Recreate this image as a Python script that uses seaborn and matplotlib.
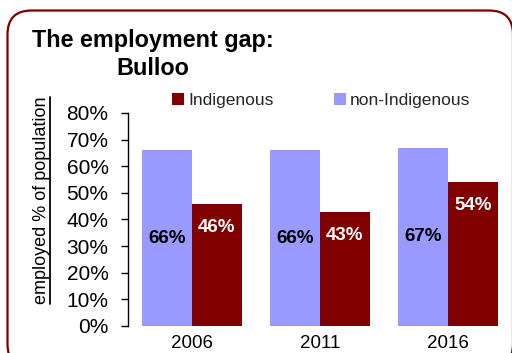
import matplotlib
matplotlib.use("Agg")
import matplotlib.pyplot as plt
from matplotlib.patches import FancyBboxPatch, Patch
from matplotlib.lines import Line2D
import seaborn as sns
import pandas as pd

# Census years and employment rates (share of working-age population)
years = ["2006", "2011", "2016"]
non_indigenous = [0.66, 0.66, 0.67]
indigenous = [0.46, 0.43, 0.54]
series_names = ["non-Indigenous", "Indigenous"]
y_ticks = [0.0, 0.1, 0.2, 0.3, 0.4, 0.5, 0.6, 0.7, 0.8]

colors = {"non-Indigenous": "#9999FF", "Indigenous": "#800000"}

df = pd.DataFrame({
    "year": years * 2,
    "group": [series_names[0]] * len(years) + [series_names[1]] * len(years),
    "rate": non_indigenous + indigenous,
})

sns.set_theme(style="white")
plt.rcParams["font.family"] = ["Liberation Sans", "DejaVu Sans"]

fig = plt.figure(figsize=(5.12, 3.53), dpi=100)
ax = fig.add_axes([0.25, 0.0765, 0.75, 0.6034])

sns.barplot(data=df, x="year", y="rate", hue="group", hue_order=series_names,
            order=years, palette=colors, width=0.774, gap=0, saturation=1,
            edgecolor="none", linewidth=0, ax=ax, legend=False)

ax.set_xlim(-0.5, 2.5)
ax.set_ylim(0, 0.8)
ax.set_yticks(y_ticks)
ax.set_yticklabels([f"{int(round(t * 100))}%" for t in y_ticks], fontsize=15)
ax.tick_params(axis="y", which="both", left=True, length=5, width=1,
               color="black", pad=9, labelcolor="black")
ax.tick_params(axis="x", bottom=False, length=0, pad=6.5, labelsize=13.5,
               labelcolor="black")
ax.set_xlabel("")
ax.set_ylabel("")
for side in ["top", "right", "bottom"]:
    ax.spines[side].set_visible(False)
ax.spines["left"].set_color("black")
ax.spines["left"].set_linewidth(1)
ax.grid(False)

# Value labels: centred for non-Indigenous, just inside the top for Indigenous
for patch in ax.containers[0]:
    h = patch.get_height()
    ax.text(patch.get_x() + patch.get_width() / 2, h / 2, f"{round(h * 100):.0f}%",
            ha="center", va="center", fontsize=13.5, fontweight="bold", color="black")
for patch in ax.containers[1]:
    h = patch.get_height()
    ax.annotate(f"{round(h * 100):.0f}%", xy=(patch.get_x() + patch.get_width() / 2, h),
                xytext=(0, -17), textcoords="offset points",
                ha="center", va="center", fontsize=13.5, fontweight="bold", color="white")

# Legend: Indigenous first, then non-Indigenous
handles = [Patch(facecolor=colors["Indigenous"], edgecolor="none"),
           Patch(facecolor=colors["non-Indigenous"], edgecolor="none")]
fig.legend(handles, ["Indigenous", "non-Indigenous"], loc="center left",
           bbox_to_anchor=(0.336, 0.716), ncol=2, frameon=False, fontsize=12.5,
           handlelength=0.7, handleheight=0.7, handletextpad=0.25,
           columnspacing=3.45, borderaxespad=0, borderpad=0)

# Title in two lines
fig.text(0.299, 0.885, "The employment gap:", ha="center", va="center",
         fontsize=16.8, fontweight="bold", color="black")
fig.text(0.299, 0.806, "Bulloo", ha="center", va="center",
         fontsize=16.8, fontweight="bold", color="black")

# Underlined y-axis label
ylab = fig.text(0.082, 0.432, "employed % of population", rotation=90,
                ha="center", va="center", fontsize=13, color="black")
fig.canvas.draw()
bb = ylab.get_window_extent().transformed(fig.transFigure.inverted())
fig.add_artist(Line2D([bb.x1 - 0.001, bb.x1 - 0.001], [bb.y0, bb.y1],
                      transform=fig.transFigure, color="black", linewidth=1.3))

# Rounded frame around the chart (inches)
frame = FancyBboxPatch((0.075, -0.15), 5.12 - 0.075 + 0.01, 3.53 - 0.105 + 0.15,
                       boxstyle="round,pad=0,rounding_size=0.24",
                       transform=fig.dpi_scale_trans, facecolor="none",
                       edgecolor="#800000", linewidth=1.6, clip_on=False)
fig.add_artist(frame)

fig.savefig("out.png", dpi=100)
